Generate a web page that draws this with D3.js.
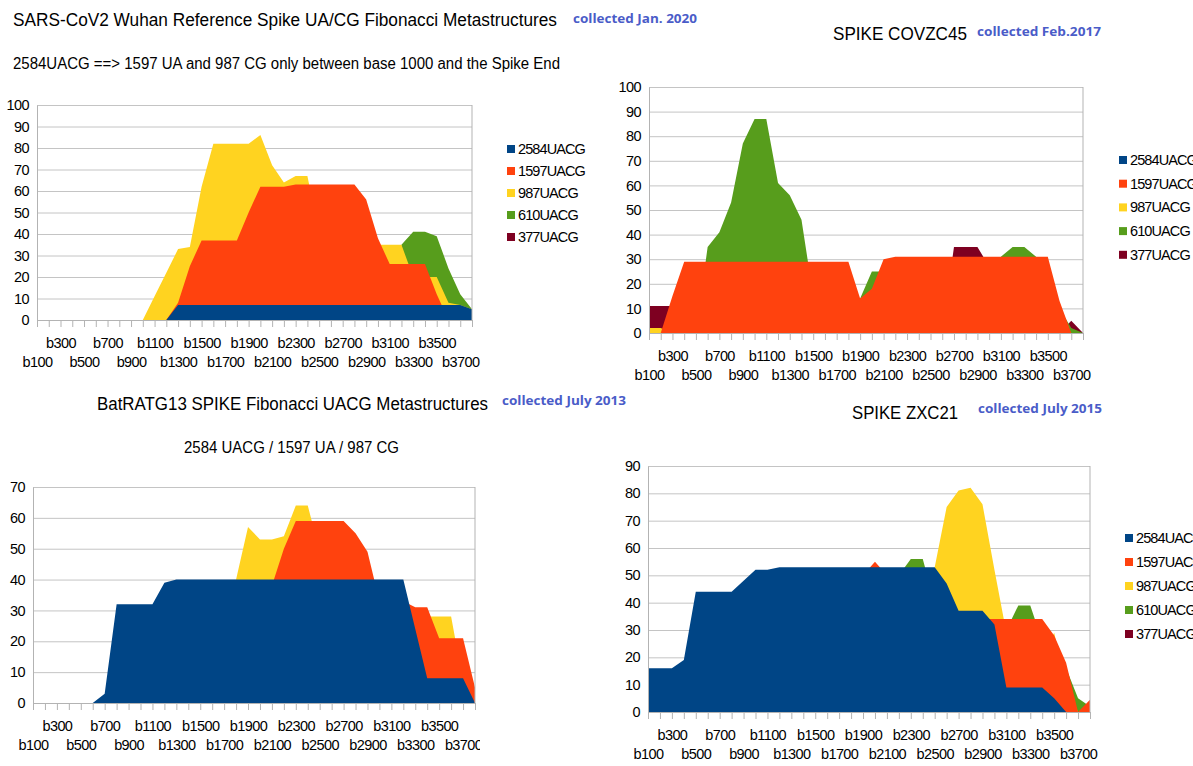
<!DOCTYPE html>
<html>
<head>
<meta charset="utf-8">
<script src="https://cdnjs.cloudflare.com/ajax/libs/d3/7.8.5/d3.min.js"></script>
<style>
  body { margin: 0; background: #fff; }
  svg { display: block; font-family: "Liberation Sans", Arial, sans-serif; }
</style>
</head>
<body>
<svg id="chart" width="1193" height="766"></svg>
<script>
// categories (bases along the spike)
const categories = ["b100", "b200", "b300", "b400", "b500", "b600", "b700", "b800", "b900", "b1000",
  "b1100", "b1200", "b1300", "b1400", "b1500", "b1600", "b1700", "b1800", "b1900", "b2000",
  "b2100", "b2200", "b2300", "b2400", "b2500", "b2600", "b2700", "b2800", "b2900", "b3000",
  "b3100", "b3200", "b3300", "b3400", "b3500", "b3600", "b3700", "b3800"];

const seriesNames = ["2584UACG", "1597UACG", "987UACG", "610UACG", "377UACG"];
const seriesColors = ["#004586", "#ff420e", "#ffd320", "#579d1c", "#7e0021"];

// SARS-CoV2 Wuhan
const wuhan2584 = [0,0,0,0,0,0,0,0,0,0,0,0,7,7,7,7,7,7,7,7,7,7,7,7,7,7,7,7,7,7,7,7,7,7,7,7,7,5];
const wuhan1597 = [0,0,0,0,0,0,0,0,0,0,0,0,8,25,37,37,37,37,50,62,62,62,63,63,63,63,63,63,56,38,26,26,26,26,12,0,0,0];
const wuhan987  = [0,0,0,0,0,0,0,0,0,0,11,22,33,34,62,82,82,82,82,86,72,64,67,67,40,40,40,40,38,35,35,35,20,20,20,8,7,5];
const wuhan610  = [0,0,0,0,0,0,0,0,0,0,0,0,0,0,0,0,0,0,0,0,0,0,0,0,0,0,0,0,0,0,0,35,41,41,39,24,12,5];
const wuhan377  = [0,0,0,0,0,0,0,0,0,0,0,0,0,0,0,0,0,0,0,0,0,0,0,0,0,0,0,0,0,0,0,0,0,0,0,0,0,0];

// COVZC45
const covzc2584 = [0,0,0,0,0,0,0,0,0,0,0,0,0,0,0,0,0,0,0,0,0,0,0,0,0,0,0,0,0,0,0,0,0,0,0,0,0,0];
const covzc1597 = [0,0,15,29,29,29,29,29,29,29,29,29,29,29,29,29,29,29,14,18,30,31,31,31,31,31,31,31,31,31,31,31,31,31,31,13,0,0];
const covzc987  = [2,2,0,0,0,0,0,0,0,0,0,0,0,0,0,0,0,0,0,0,0,0,0,0,0,0,0,0,0,0,0,0,0,0,0,0,0,0];
const covzc610  = [0,0,0,0,0,35,41,53,77,87,87,61,56,46,15,0,0,0,14,25,25,0,0,0,0,0,0,0,0,0,31,35,35,31,20,10,2,0];
const covzc377  = [11,11,11,0,0,0,0,0,0,0,0,0,0,0,0,0,0,0,0,0,0,0,0,0,0,0,35,35,35,27,0,0,0,0,0,0,5,0];

// BatRATG13
const bat2584 = [0,0,0,0,0,0,3,32,32,32,32,39,40,40,40,40,40,40,40,40,40,40,40,40,40,40,40,40,40,40,40,40,24,8,8,8,8,0];
const bat1597 = [0,0,0,0,0,0,0,0,0,0,0,0,0,0,0,0,0,0,0,20,38,50,59,59,59,59,59,55,49,33,33,33,31,31,21,21,21,5];
const bat987  = [0,0,0,0,0,0,0,0,0,0,0,0,0,0,0,0,30,40,57,53,53,54,64,64,49,45,45,45,40,30,30,30,28,28,28,28,7,0];
const bat610  = [0,0,0,0,0,0,0,0,0,0,0,0,0,0,0,0,0,0,0,0,0,0,0,0,0,0,0,0,0,0,0,0,0,0,0,0,0,0];
const bat377  = [0,0,0,0,0,0,0,0,0,0,0,0,0,0,0,0,0,0,0,0,0,0,0,0,0,0,0,0,0,0,0,0,0,0,0,0,0,0];

// ZXC21
const zxc2584 = [16,16,16,19,44,44,44,44,48,52,52,53,53,53,53,53,53,53,53,53,53,53,53,53,53,47,37,37,37,32,9,9,9,9,5,0,0,0];
const zxc1597 = [0,0,0,0,0,0,0,0,0,0,0,0,0,0,0,0,0,0,50,55,50,34,34,34,34,34,34,34,34,34,34,34,34,34,28,18,0,4.5];
const zxc987  = [0,0,0,0,0,0,0,0,0,0,0,0,0,0,0,0,0,0,0,0,0,0,0,0,53,75,81,82,76,52,29,20,20,20,29,10,0,0];
const zxc610  = [0,0,0,0,0,0,0,0,0,0,0,0,0,0,0,0,0,0,0,0,0,50,56,56,40,0,0,0,0,0,30,39,39,26,20,16,5,2];
const zxc377  = [0,0,0,0,0,0,0,0,0,0,0,0,0,0,0,0,0,0,0,0,0,0,0,0,0,0,0,0,0,0,0,0,0,0,0,0,0,0];

const panels = [
  { series: [wuhan2584, wuhan1597, wuhan987, wuhan610, wuhan377],
    left: 37, right: 472, top: 105, bottom: 320, yMax: 100,
    legX: 507, legY: 149, legStep: 22, clipW: 1193 },
  { series: [covzc2584, covzc1597, covzc987, covzc610, covzc377],
    left: 649, right: 1083, top: 87, bottom: 333, yMax: 100,
    legX: 1119, legY: 160, legStep: 23.7, clipW: 1193 },
  { series: [bat2584, bat1597, bat987, bat610, bat377],
    left: 33, right: 475, top: 487, bottom: 703, yMax: 70,
    legX: 511, legY: 528, legStep: 24, clipW: 480 },
  { series: [zxc2584, zxc1597, zxc987, zxc610, zxc377],
    left: 648, right: 1090, top: 466, bottom: 712, yMax: 90,
    legX: 1125, legY: 538, legStep: 24, clipW: 1193 }
];

const titles = [
  { text: "SARS-CoV2 Wuhan Reference Spike UA/CG Fibonacci Metastructures", x: 13, y: 26, size: 17.5, w: 544 },
  { text: "2584UACG ==> 1597 UA and 987 CG only between base 1000 and the Spike End", x: 13, y: 69, size: 16, w: 547 },
  { text: "SPIKE COVZC45", x: 833, y: 40, size: 19, w: 134 },
  { text: "BatRATG13 SPIKE Fibonacci UACG Metastructures", x: 97, y: 410, size: 17.5, w: 391 },
  { text: "2584 UACG / 1597 UA / 987 CG", x: 184, y: 453, size: 16, w: 215 },
  { text: "SPIKE ZXC21", x: 852, y: 419, size: 19, w: 106 }
];
const notes = [
  { text: "collected Jan. 2020", x: 573, y: 23, w: 124 },
  { text: "collected Feb.2017", x: 977, y: 36, w: 124 },
  { text: "collected July 2013", x: 502, y: 405, w: 124 },
  { text: "collected July 2015", x: 978, y: 413, w: 124 }
];

const svg = d3.select("#chart");

function drawPanel(p, n) {
  const x = d3.scalePoint().domain(categories).range([p.left, p.right]);
  const y = d3.scaleLinear().domain([0, p.yMax]).range([p.bottom, p.top]);

  svg.append("clipPath").attr("id", "clip" + n)
    .append("rect").attr("x", 0).attr("y", 0).attr("width", p.clipW).attr("height", 766);
  const g = svg.append("g").attr("clip-path", "url(#clip" + n + ")");

  // horizontal grid
  g.append("g")
    .attr("transform", "translate(" + p.left + ",0)")
    .call(d3.axisLeft(y).ticks(p.yMax / 10).tickSize(-(p.right - p.left)).tickFormat(""))
    .call(a => a.select(".domain").remove())
    .selectAll("line").attr("stroke", "#c4c4c4");

  // areas, first series drawn last so it sits in front
  const area = d3.area()
    .x((d, i) => x(categories[i]))
    .y0(y(0))
    .y1(d => y(d));
  for (let k = p.series.length - 1; k >= 0; k--) {
    g.append("path")
      .datum(p.series[k])
      .attr("fill", seriesColors[k])
      .attr("d", area);
  }

  // frame
  g.append("line").attr("x1", p.right).attr("x2", p.right).attr("y1", p.top).attr("y2", p.bottom)
    .attr("stroke", "#b3b3b3");

  // y axis
  g.append("g")
    .attr("transform", "translate(" + p.left + ",0)")
    .call(d3.axisLeft(y).ticks(p.yMax / 10).tickSize(0).tickPadding(8))
    .call(a => a.select(".domain").attr("stroke", "#b3b3b3"))
    .selectAll("text").attr("font-size", 14.5).attr("fill", "#000")
    .attr("font-family", "Liberation Sans, Arial, sans-serif").attr("letter-spacing", -0.6);

  // x axis, labels every other base on two rows
  const xa = g.append("g")
    .attr("transform", "translate(0," + p.bottom + ")")
    .call(d3.axisBottom(x).tickSize(7).tickFormat((d, i) => i % 2 ? "" : d));
  xa.select(".domain").attr("stroke", "#b3b3b3");
  xa.selectAll("line").attr("stroke", "#b3b3b3");
  xa.selectAll("text")
    .attr("y", (d, i) => i % 4 === 0 ? 37 : 18)
    .attr("font-size", 14.5).attr("fill", "#000")
    .attr("font-family", "Liberation Sans, Arial, sans-serif").attr("letter-spacing", -0.6);

  // legend
  const leg = g.append("g");
  seriesNames.forEach((name, k) => {
    const cy = p.legY + k * p.legStep;
    leg.append("rect").attr("x", p.legX).attr("y", cy - 4).attr("width", 8).attr("height", 8)
      .attr("fill", seriesColors[k]);
    leg.append("text").attr("x", p.legX + 11).attr("y", cy + 5)
      .attr("font-size", 14.5).attr("letter-spacing", -0.9).text(name);
  });
}

panels.forEach(drawPanel);

svg.selectAll("text.title")
  .data(titles)
  .enter()
  .append("text")
  .attr("class", "title")
  .attr("x", d => d.x)
  .attr("y", d => d.y)
  .attr("font-size", d => d.size)
  .attr("textLength", d => d.w)
  .attr("lengthAdjust", "spacingAndGlyphs")
  .text(d => d.text);

svg.selectAll("text.note")
  .data(notes)
  .enter()
  .append("text")
  .attr("class", "note")
  .attr("x", d => d.x)
  .attr("y", d => d.y)
  .attr("font-family", "Open Sans, Noto Sans, sans-serif")
  .attr("font-weight", "bold")
  .attr("font-size", 12)
  .attr("fill", "#4a5cc8")
  .attr("textLength", d => d.w)
  .attr("lengthAdjust", "spacingAndGlyphs")
  .text(d => d.text);
</script>
</body>
</html>
